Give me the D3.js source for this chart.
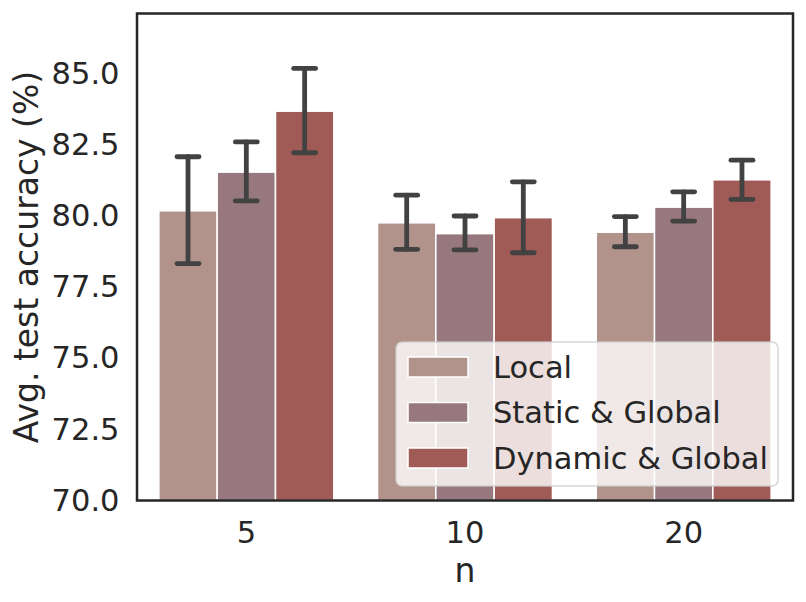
<!DOCTYPE html>
<html>
<head>
<meta charset="utf-8">
<script src="https://cdn.jsdelivr.net/npm/d3@7"></script>
<style>
  body { margin: 0; background: #fff; }
  svg { display: block; font-family: "DejaVu Sans", sans-serif; }
</style>
</head>
<body>
<svg id="chart" width="806" height="602"></svg>
<script>
// grouped bars with error bars, seaborn-ish look

const groups = ["5", "10", "20"];
const series = ["Local", "Static & Global", "Dynamic & Global"];
const colors = ["#b2938c", "#98787f", "#a15b57"];

// means per series (one value per group)
const localMean   = [80.17, 79.75, 79.42];
const staticMean  = [81.53, 79.37, 80.30];
const dynamicMean = [83.67, 79.93, 81.26];

// error bar ends
const localLow    = [78.32, 78.82, 78.91];
const localHigh   = [82.07, 80.72, 79.97];
const staticLow   = [80.52, 78.80, 79.81];
const staticHigh  = [82.59, 79.99, 80.84];
const dynamicLow  = [82.21, 78.70, 80.57];
const dynamicHigh = [85.17, 81.19, 81.95];

const yTicks = [70, 72.5, 75, 77.5, 80, 82.5, 85];

const means = [localMean, staticMean, dynamicMean];
const lows  = [localLow, staticLow, dynamicLow];
const highs = [localHigh, staticHigh, dynamicHigh];

const rows = [];
series.forEach((s, si) => {
  groups.forEach((g, gi) => {
    rows.push({ group: g, series: s, si, value: means[si][gi], lo: lows[si][gi], hi: highs[si][gi] });
  });
});

const plotLeft = 137, plotRight = 793, plotTop = 13.5, plotBottom = 500.5;
const textColor = "#262626";
const tickFont = "30.5px";

const svg = d3.select("#chart");

const x = d3.scaleBand().domain(groups).range([plotLeft, plotRight]).padding(0);
const xs = d3.scaleBand().domain(series)
  .range([x.bandwidth() * 0.1, x.bandwidth() * 0.9]).padding(0);
const y = d3.scaleLinear().domain([70, 87.1]).range([plotBottom, plotTop]);

// bars
svg.append("g").selectAll("rect")
  .data(rows)
  .join("rect")
  .attr("x", d => x(d.group) + xs(d.series))
  .attr("y", d => y(d.value))
  .attr("width", xs.bandwidth())
  .attr("height", d => y(70) - y(d.value))
  .attr("fill", d => colors[d.si])
  .attr("stroke", "#fff")
  .attr("stroke-width", 1.5);

// error bars
const capHalf = 11;
const err = svg.append("g")
  .attr("stroke", "#424242")
  .attr("stroke-width", 4.8)
  .attr("stroke-linecap", "round");

const cx = d => x(d.group) + xs(d.series) + xs.bandwidth() / 2;

err.selectAll("line.v").data(rows).join("line")
  .attr("class", "v")
  .attr("x1", cx).attr("x2", cx)
  .attr("y1", d => y(d.lo)).attr("y2", d => y(d.hi));
err.selectAll("line.lo").data(rows).join("line")
  .attr("class", "lo")
  .attr("x1", d => cx(d) - capHalf).attr("x2", d => cx(d) + capHalf)
  .attr("y1", d => y(d.lo)).attr("y2", d => y(d.lo));
err.selectAll("line.hi").data(rows).join("line")
  .attr("class", "hi")
  .attr("x1", d => cx(d) - capHalf).attr("x2", d => cx(d) + capHalf)
  .attr("y1", d => y(d.hi)).attr("y2", d => y(d.hi));

// axes
const yAxis = svg.append("g")
  .attr("transform", `translate(${plotLeft},0)`)
  .call(d3.axisLeft(y).tickValues(yTicks).tickSize(0).tickPadding(17.5)
    .tickFormat(d3.format(".1f")));
const xAxis = svg.append("g")
  .attr("transform", `translate(0,${plotBottom})`)
  .call(d3.axisBottom(x).tickSize(0).tickPadding(21));

[yAxis, xAxis].forEach(a => {
  a.select(".domain").remove();
  a.selectAll("text")
    .attr("fill", textColor)
    .style("font-size", tickFont)
    .style("font-family", "DejaVu Sans");
});

// frame
svg.append("rect")
  .attr("x", plotLeft).attr("y", plotTop)
  .attr("width", plotRight - plotLeft).attr("height", plotBottom - plotTop)
  .attr("fill", "none")
  .attr("stroke", textColor)
  .attr("stroke-width", 2.5);

// axis titles
svg.append("text")
  .attr("transform", `translate(38,${(plotTop + plotBottom) / 2}) rotate(-90)`)
  .attr("text-anchor", "middle")
  .attr("fill", textColor)
  .style("font-size", "33px")
  .text("Avg. test accuracy (%)");

svg.append("text")
  .attr("x", (plotLeft + plotRight) / 2)
  .attr("y", 582)
  .attr("text-anchor", "middle")
  .attr("fill", textColor)
  .style("font-size", "33px")
  .text("n");

// legend
const legend = svg.append("g");
legend.append("rect")
  .attr("x", 396).attr("y", 342)
  .attr("width", 382).attr("height", 144)
  .attr("rx", 6)
  .attr("fill", "#fff").attr("fill-opacity", 0.8)
  .attr("stroke", "#cccccc").attr("stroke-opacity", 0.8)
  .attr("stroke-width", 1.5);

const item = legend.selectAll("g.item")
  .data(series)
  .join("g")
  .attr("class", "item")
  .attr("transform", (d, i) => `translate(0,${367 + i * 45.5})`);

item.append("rect")
  .attr("x", 408).attr("y", -10)
  .attr("width", 60).attr("height", 20)
  .attr("fill", (d, i) => colors[i])
  .attr("stroke", "#fff").attr("stroke-width", 1.5);

item.append("text")
  .attr("x", 493)
  .attr("dy", "0.36em")
  .attr("fill", textColor)
  .style("font-size", tickFont)
  .text(d => d);
</script>
</body>
</html>
